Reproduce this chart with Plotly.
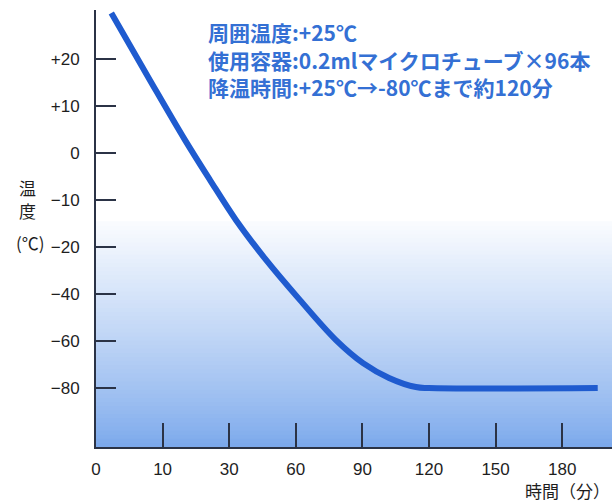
import numpy as np
import plotly.graph_objects as go

# ---- data ----
time_min = [2.3, 8.1, 16.7, 24.2, 33.1, 46.6, 61.9, 78.1, 90.3, 102.0, 114.1, 120.0, 196.0]
temp_c = [29.8, 15.5, 2.8, -5.7, -14.3, -25.5, -42.6, -59.6, -69.4, -75.7, -79.6, -80.0, -80.0]

x_tick_vals = [0, 10, 30, 60, 90, 120, 150, 180]
x_tick_text = ["0", "10", "30", "60", "90", "120", "150", "180"]
y_tick_vals = [-80, -60, -40, -20, -10, 0, 10, 20]
y_tick_text = ["−80", "−60", "−40", "−20", "−10", "0", "+10", "+20"]

info_lines = [
    "周囲温度:+25℃",
    "使用容器:0.2mlマイクロチューブ×96本",
    "降温時間:+25℃→-80℃まで約120分",
]

# ---- piecewise scales (equal spacing between ticks, as on the original) ----
x_break = x_tick_vals + [210]
y_break = y_tick_vals + [30]
xs = np.interp(time_min, x_break, np.arange(len(x_break)))
ys = np.interp(temp_c, y_break, np.arange(len(y_break)))
x_pos = list(range(len(x_tick_vals)))
y_pos = list(range(len(y_tick_vals)))

W, H = 612, 504
ML, MR, MT, MB = 96, 0, 10, 57
PW, PH = W - ML - MR, H - MT - MB

def px(x):
    return (x - ML) / PW

def py(y):
    return (H - MB - y) / PH

fig = go.Figure()
fig.add_trace(go.Scatter(
    x=xs, y=ys, mode="lines",
    line=dict(color="#1f5bcf", width=6, shape="spline", smoothing=1.0),
    hoverinfo="skip", showlegend=False,
))

# background gradient (white -> blue toward the bottom)
shapes = []
bottom = np.array([122, 168, 236])
top = np.array([250, 252, 255])
n = 55
y_bot_px, y_top_px = H - MB, 222
for i in range(n):
    t0 = i / n
    t1 = (i + 1) / n
    tm = (t0 + t1) / 2
    c = bottom + (top - bottom) * (tm ** 0.85)
    y0 = y_bot_px - (y_bot_px - y_top_px) * t0
    y1 = y_bot_px - (y_bot_px - y_top_px) * t1
    shapes.append(dict(
        type="rect", xref="paper", yref="paper", x0=0, x1=1,
        y0=py(y0), y1=py(y1) + 0.002, layer="below", line=dict(width=0),
        fillcolor="rgb(%d,%d,%d)" % tuple(int(v) for v in c),
    ))

annotations = []
text_font = dict(family="Noto Sans CJK JP", size=21, color="#3470d4")
for i, (line, yc) in enumerate(zip(info_lines, [32, 60, 87])):
    annotations.append(dict(
        text="<b>%s</b>" % line, xref="paper", yref="paper",
        x=px(206), y=py(yc), xanchor="left", yanchor="middle",
        showarrow=False, font=text_font,
    ))

lab_font = dict(family="Noto Sans CJK JP", size=17, color="#1e1e1e")
annotations.append(dict(text="温", xref="paper", yref="paper", x=px(27), y=py(187),
                        xanchor="center", yanchor="middle", showarrow=False, font=lab_font))
annotations.append(dict(text="度", xref="paper", yref="paper", x=px(27), y=py(211),
                        xanchor="center", yanchor="middle", showarrow=False, font=lab_font))
annotations.append(dict(text="(℃)", xref="paper", yref="paper", x=px(30), y=py(242),
                        xanchor="center", yanchor="middle", showarrow=False, font=lab_font))
annotations.append(dict(text="時間（分）", xref="paper", yref="paper", x=px(567), y=py(490),
                        xanchor="center", yanchor="middle", showarrow=False,
                        font=dict(family="Noto Sans CJK JP", size=17, color="#1e1e1e")))

tick_font = dict(family="Liberation Sans, Arial", size=17, color="#1e1e1e")
fig.update_layout(
    width=W, height=H,
    margin=dict(l=ML, r=MR, t=MT, b=MB),
    paper_bgcolor="white", plot_bgcolor="white",
    shapes=shapes, annotations=annotations,
    xaxis=dict(
        range=[0, PW / 66.6], tickmode="array", tickvals=x_pos, ticktext=x_tick_text,
        showgrid=False, zeroline=False, showline=True, linecolor="#2b3346", linewidth=2,
        ticks="inside", ticklen=24, tickwidth=2, tickcolor="#2b3346",
        tickfont=tick_font, ticklabelstandoff=6, fixedrange=True,
    ),
    yaxis=dict(
        range=[(388 - 447) / 47, (388 - 10) / 47], tickmode="array", tickvals=y_pos,
        ticktext=y_tick_text,
        showgrid=False, zeroline=False, showline=True, linecolor="#2b3346", linewidth=2,
        ticks="inside", ticklen=20, tickwidth=2, tickcolor="#2b3346",
        tickfont=tick_font, ticklabelstandoff=11, fixedrange=True,
    ),
)

fig.write_html(
    "out.html",
    config={"displayModeBar": False},
    post_script="document.body.style.margin='0';document.body.style.overflow='hidden';",
)
